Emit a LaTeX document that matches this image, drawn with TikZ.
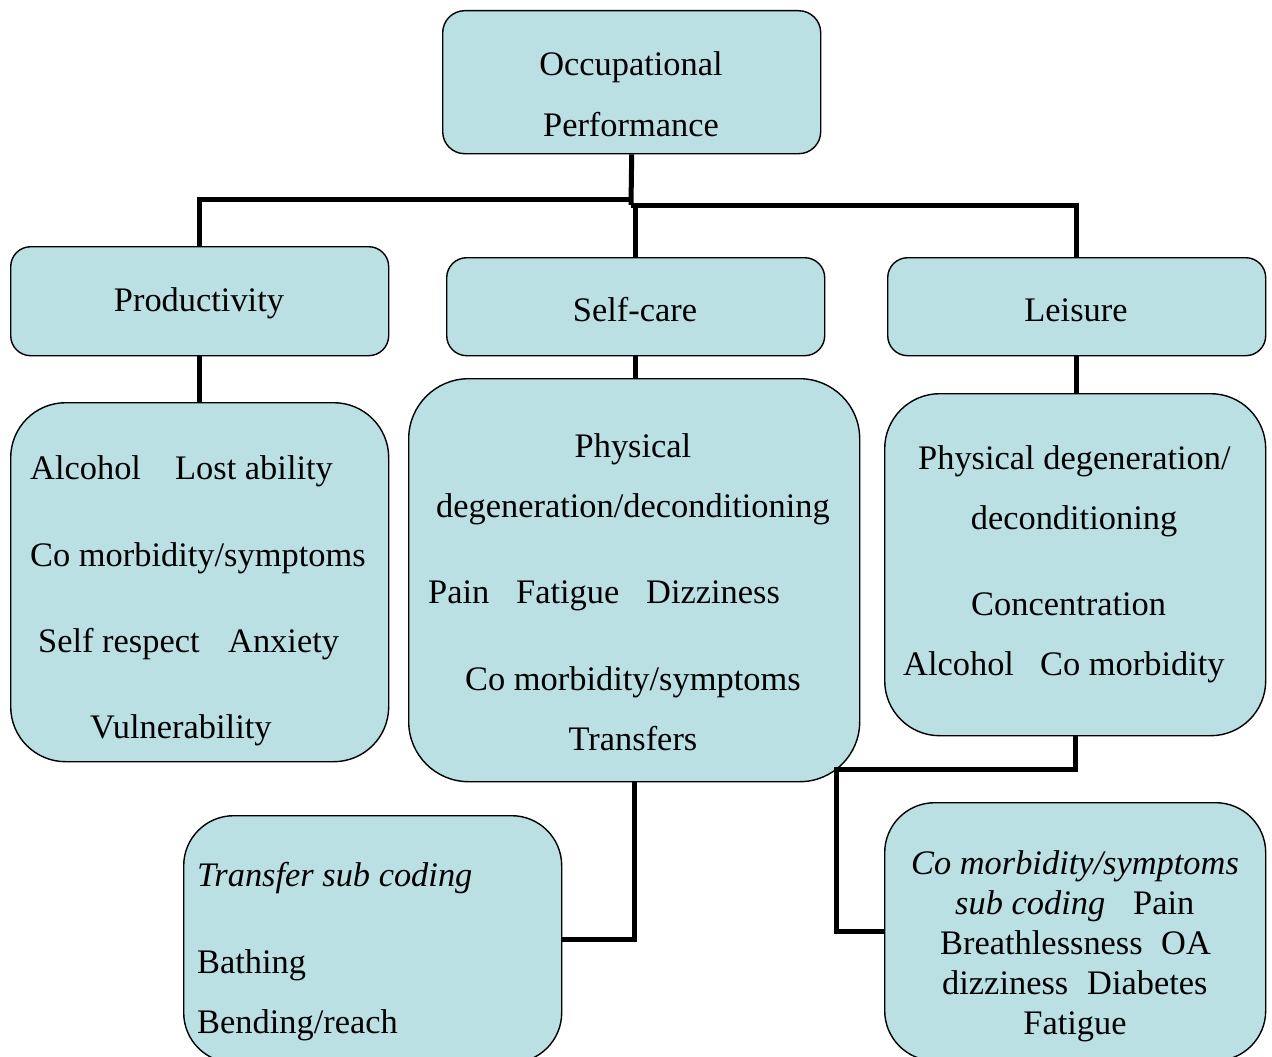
\documentclass[tikz,border=0pt]{standalone}
\usepackage{fontspec}
\setmainfont{Liberation Serif}
\definecolor{boxfill}{RGB}{186,224,227}
\tikzset{
  box/.style={draw=black, line width=1.4pt, fill=boxfill, rounded corners=#1, inner sep=0pt, anchor=north west},
  txt/.style={font=\fontsize{34.4}{40}\selectfont, inner sep=0pt, anchor=base},
  txtl/.style={txt, anchor=base west},
  conn/.style={line width=5pt, draw=black}
}
\begin{document}
\begin{tikzpicture}[x=1pt,y=-1pt]
\useasboundingbox (0,0) rectangle (1272,1057);
\clip (0,0) rectangle (1272,1057);
% boxes
\node[box=22, minimum width=378pt, minimum height=143pt] (occ) at (442,10) {};
\node[box=20, minimum width=378pt, minimum height=109pt] (prod) at (10,246) {};
\node[box=20, minimum width=378pt, minimum height=98pt] (sc) at (446,257) {};
\node[box=20, minimum width=378pt, minimum height=98pt] (leis) at (887,257) {};
\node[box=55, minimum width=378pt, minimum height=359pt] (proddet) at (10,402) {};
\node[box=60, minimum width=451pt, minimum height=403pt] (scdet) at (408,378) {};
\node[box=55, minimum width=381pt, minimum height=342pt] (leisdet) at (884,393) {};
\node[box=50, minimum width=378pt, minimum height=247pt] (trans) at (183,815) {};
\node[box=50, minimum width=381pt, minimum height=258pt] (cm) at (884,802) {};
% connectors
\coordinate (j1) at (631,199);
\coordinate (j2) at (631,205);
\coordinate (k) at (836,769);
\draw[conn] (occ.south) -- (j2);
\draw[conn] (j1) -| (prod.north);
\draw[conn] (j2) -| (leis.north);
\draw[conn] (sc.north |- j2) -- (sc.north);
\draw[conn] (prod.south) -- (prod.south |- proddet.north);
\draw[conn] (sc.south) -- (sc.south |- scdet.north);
\draw[conn] (leis.south) -- (leis.south |- leisdet.north);
\draw[conn] (scdet.south) |- (trans.east);
\draw[conn] (leisdet.south) |- (k) |- (cm.west);
% texts
\node[txt] (t1) at (631,76) {Occupational};
\node[txt] (t2) at (631,136) {Performance};
\node[txt] (t3) at (199,311) {Productivity};
\node[txt] (t4) at (635,321) {Self-care};
\node[txt] (t5) at (1076,321) {Leisure};
% productivity detail
\node[txtl] (p1) at (30,479) {Alcohol};
\node[txtl] (p2) at (175,479) {Lost ability};
\node[txtl] (p3) at (30,566) {Co morbidity/symptoms};
\node[txtl] (p4) at (38,652) {Self respect};
\node[txtl] (p5) at (228,652) {Anxiety};
\node[txtl] (p6) at (90,738) {Vulnerability};
% self-care detail
\node[txt] (s1) at (633,457) {Physical};
\node[txt] (s2) at (633,517) {degeneration/deconditioning};
\node[txtl] (s3) at (428,603) {Pain};
\node[txtl] (s4) at (516,603) {Fatigue};
\node[txtl] (s5) at (646,603) {Dizziness};
\node[txtl] (s6) at (465,690) {Co morbidity/symptoms};
\node[txt] (s7) at (633,750) {Transfers};
% leisure detail
\node[txtl] (l1) at (918,469) {Physical degeneration/};
\node[txt] (l2) at (1074,529) {deconditioning};
\node[txtl] (l3) at (971,615) {Concentration};
\node[txtl] (l4) at (903,675) {Alcohol};
\node[txtl] (l5) at (1040,675) {Co morbidity};
% transfer sub coding
\node[txtl] (r1) at (197,886) {\itshape Transfer sub coding};
\node[txtl] (r2) at (197,973) {Bathing};
\node[txtl] (r3) at (197,1033) {Bending/reach};
% co morbidity sub coding
\node[txt] (c1) at (1075,874) {\itshape Co morbidity/symptoms};
\node[txtl] (c2) at (955,914) {\itshape sub coding};
\node[txtl] (c3) at (1133,914) {Pain};
\node[txtl] (c4) at (940,954) {Breathlessness};
\node[txtl] (c5) at (1161,954) {OA};
\node[txtl] (c6) at (942,994) {dizziness};
\node[txtl] (c7) at (1087,994) {Diabetes};
\node[txt] (c8) at (1075,1034) {Fatigue};
\end{tikzpicture}
\end{document}
